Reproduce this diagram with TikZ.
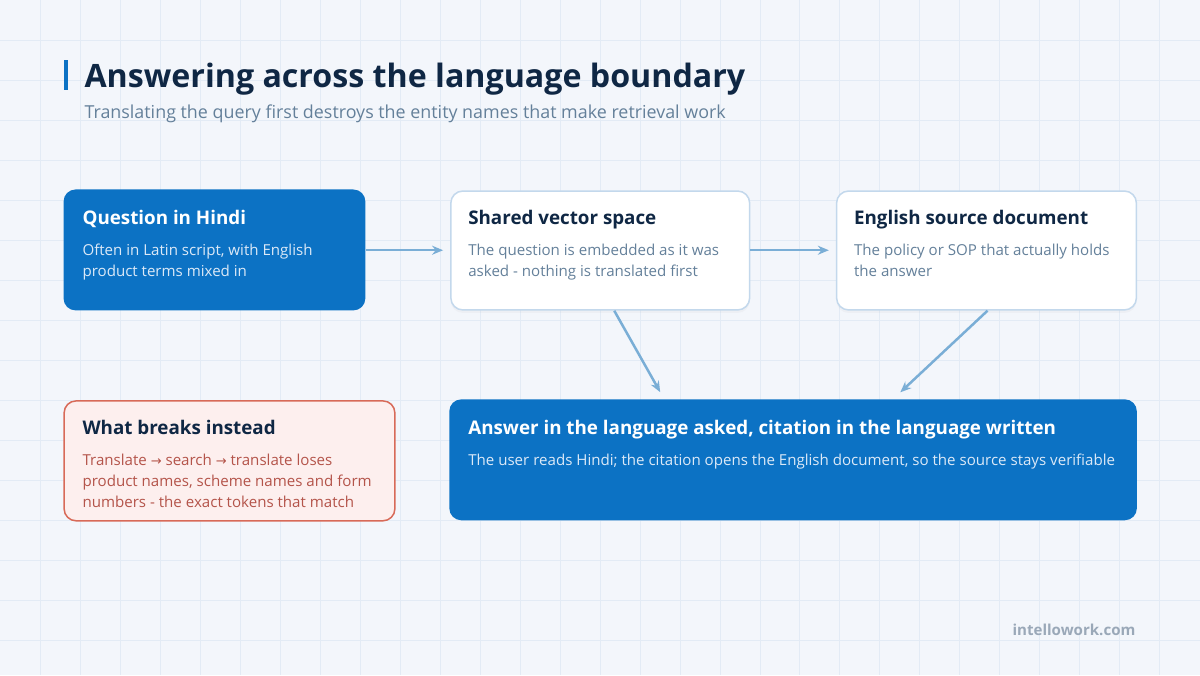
\documentclass[tikz,border=0pt]{standalone}
\usepackage{fontspec}
\setmainfont{Open Sans}
\newfontfamily\symfont{DejaVu Sans}
\usepackage{tikz}
\usetikzlibrary{arrows.meta,shapes,shadows}
\definecolor{bgcol}{HTML}{F3F6FB}
\definecolor{gridcol}{HTML}{E3EBF5}
\definecolor{bluefill}{HTML}{0C72C4}
\definecolor{darktext}{HTML}{0F2744}
\definecolor{greytext}{HTML}{64809A}
\definecolor{paleblue}{HTML}{DCE9F7}
\definecolor{edgeblue}{HTML}{C3D8EC}
\definecolor{arrowcol}{HTML}{7AAED6}
\definecolor{warnfill}{HTML}{FDEFEE}
\definecolor{warnedge}{HTML}{D86A58}
\definecolor{warntext}{HTML}{B4544A}
\definecolor{footcol}{HTML}{9AA8B8}
\newcommand{\arr}{{\symfont\fontsize{13}{21}\selectfont →}}
\tikzset{
  card/.style = {rectangle, rounded corners=12pt, inner sep=0pt, anchor=north west},
  bluecard/.style = {card, fill=bluefill},% dark blue card
  whitecard/.style = {card, fill=white, draw=edgeblue, line width=1.5pt,
    drop shadow={opacity=0.05, shadow xshift=0pt, shadow yshift=-3pt}},
  warncard/.style = {card, fill=warnfill, draw=warnedge, line width=1.5pt},
  cardtitle/.style = {anchor=base west, inner sep=0pt, font=\fontsize{18.8}{22}\selectfont\bfseries},
  cardbody/.style = {anchor=base west, inner sep=0pt, align=left,
    font=\fontsize{15.1}{21}\selectfont},% base = last line
  flow/.style = {draw=arrowcol, line width=2.5pt},
}

\begin{document}
\begin{tikzpicture}[x=1pt,y=-1pt,->,>={Stealth[length=11pt,width=9pt]}]
% background and grid
\fill[bgcol] (0,0) rectangle (1200,675);
\foreach \gx in {40,80,...,1160}
  \draw[-,gridcol,line width=0.8pt] (\gx,0) -- (\gx,675);
\foreach \gy in {40,80,...,640}
  \draw[-,gridcol,line width=0.8pt] (0,\gy) -- (1200,\gy);
\useasboundingbox (0,0) rectangle (1200,675);

% heading
\fill[bluefill] (64,60) rectangle (68,90);
\node (title) [anchor=base west, inner sep=0pt, text=darktext,
  font=\fontsize{32.2}{36}\selectfont\bfseries] at (84,87) {Answering across the language boundary};
\node (subtitle) [anchor=base west, inner sep=0pt, text=greytext,
  font=\fontsize{17.9}{22}\selectfont] at (84,118) {Translating the query first destroys the entity names that make retrieval work};

% top row
\node (q) [bluecard, minimum width=302pt, minimum height=121pt] at (63,189) {};
\node (qt) [cardtitle, text=white] at ([shift={(19,35)}]q.north west) {Question in Hindi};
\node (qb) [cardbody, text=paleblue] at ([shift={(19,87)}]q.north west)
  {Often in Latin script, with English\\product terms mixed in};

\node (sv) [whitecard, minimum width=299pt, minimum height=119pt] at (450,190) {};
\node (svt) [cardtitle, text=darktext] at ([shift={(18,34)}]sv.north west) {Shared vector space};
\node (svb) [cardbody, text=greytext] at ([shift={(18,86)}]sv.north west)
  {The question is embedded as it was\\asked - nothing is translated first};

\node (en) [whitecard, minimum width=300pt, minimum height=119pt] at (836,190) {};
\node (ent) [cardtitle, text=darktext] at ([shift={(18,34)}]en.north west) {English source document};
\node (enb) [cardbody, text=greytext] at ([shift={(18,86)}]en.north west)
  {The policy or SOP that actually holds\\the answer};

% bottom row
\node (wb) [warncard, minimum width=331pt, minimum height=120pt] at (63,400) {};
\node (wbt) [cardtitle, text=darktext] at ([shift={(19,34)}]wb.north west) {What breaks instead};
\node (wbb) [cardbody, text=warntext] at ([shift={(19,107)}]wb.north west)
  {Translate \arr{} search \arr{} translate loses\\product names, scheme names and form\\numbers - the exact tokens that match};

\node (ans) [bluecard, minimum width=688pt, minimum height=121pt] at (449,399) {};
\node (anst) [cardtitle, text=white] at ([shift={(19,35)}]ans.north west) {Answer in the language asked, citation in the language written};
\node (ansb) [cardbody, text=paleblue] at ([shift={(19,66)}]ans.north west)
  {The user reads Hindi; the citation opens the English document, so the source stays verifiable};

% connectors
\draw[flow, shorten >=7pt] (q.east |- 0,250) -- (sv.west |- 0,250);
\draw[flow, shorten >=7pt] (sv.east |- 0,250) -- (en.west |- 0,250);
\draw[flow, shorten >=8pt] ([xshift=14pt]sv.south) -- ([xshift=-129pt]ans.north);
\draw[flow, shorten >=10pt] ([xshift=1pt]en.south) -- ([xshift=100pt]ans.north);

% footer
\node (foot) [anchor=base east, inner sep=0pt, text=footcol,
  font=\fontsize{15.1}{20}\selectfont\bfseries] at (1136,636) {intellowork.com};
\end{tikzpicture}
\end{document}
